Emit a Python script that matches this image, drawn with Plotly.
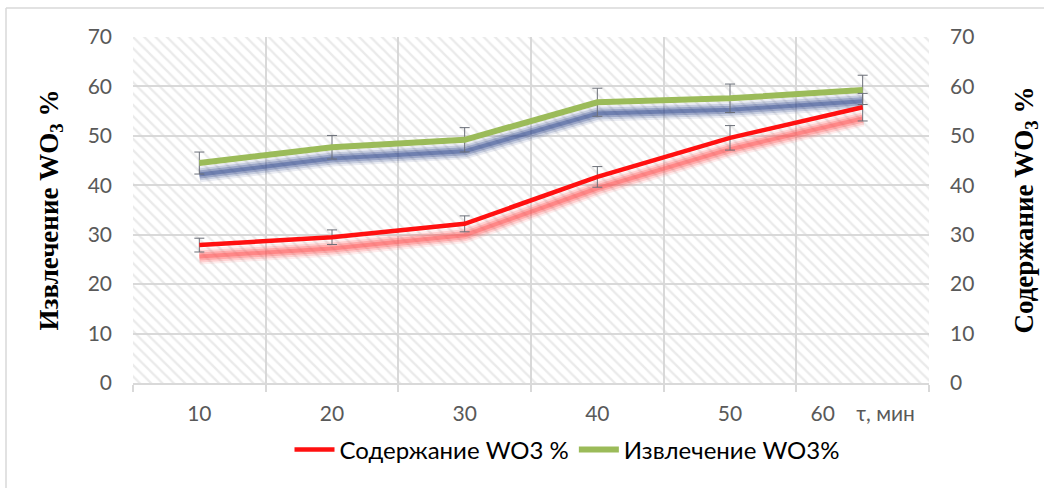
import plotly.graph_objects as go

# Data
time_labels = ["10", "20", "30", "40", "50", "60\u00a0\u00a0\u00a0\u00a0τ, мин"]
content_wo3 = [27.9, 29.5, 32.2, 41.7, 49.6, 55.8]      # Содержание WO3 %
extraction_wo3 = [44.5, 47.7, 49.2, 56.8, 57.6, 59.3]   # Извлечение WO3 %
error_pct = 5
y_max = 70

# Look
W, H = 1044, 488
ML, MR, MT, MB = 133, 115, 37, 105
GRID = "#d9d9d9"
TICK_FONT = dict(family="Lato", size=21, color="#595959")
TITLE_FONT = dict(family="Liberation Serif", size=27, color="black", weight="bold")
SHADOW_SHIFT = 2.3  # in axis units, drop shadow under the lines


def px_x(p):
    return (p - ML) / (W - ML - MR)


def px_y(p):
    return (H - MB - p) / (H - MT - MB)


fig = go.Figure()

# hatched plot area
fig.add_trace(go.Bar(
    x=time_labels, y=[y_max] * len(time_labels), yaxis="y",
    marker=dict(color="rgba(0,0,0,0)", line=dict(width=0),
                pattern=dict(shape="\\", fgcolor="#d6d6d6", bgcolor="rgba(0,0,0,0)",
                             size=8, solidity=0.3)),
    hoverinfo="skip", showlegend=False,
))

# blurred shadows (stacked soft lines)
for y, col in [(extraction_wo3, "45,70,140"), (content_wo3, "255,80,80")]:
    for w, a in [(16, 0.10), (12, 0.18), (8, 0.28), (4, 0.4)]:
        fig.add_trace(go.Scatter(
            x=time_labels, y=y, yaxis="y2", mode="lines",
            line=dict(color=f"rgba({col},{a})", width=w),
            hoverinfo="skip", showlegend=False,
        ))

err = dict(type="percent", value=error_pct, color="#6b6f78", thickness=1, width=5)

fig.add_trace(go.Scatter(
    x=time_labels, y=extraction_wo3, yaxis="y3", mode="lines",
    name="Извлечение WO3%", legendrank=2,
    line=dict(color="#9bbb59", width=6), error_y=err,
))
fig.add_trace(go.Scatter(
    x=time_labels, y=content_wo3, yaxis="y4", mode="lines",
    name="Содержание WO3 %", legendrank=1,
    line=dict(color="#ff1010", width=4.5), error_y=err,
))

fig.update_layout(
    width=W, height=H,
    margin=dict(l=ML, r=MR, t=MT, b=MB),
    paper_bgcolor="white", plot_bgcolor="white",
    bargap=0,
    xaxis=dict(
        type="category", tickson="boundaries", range=[-0.5, len(time_labels) - 0.5],
        showgrid=True, gridcolor=GRID, gridwidth=1.5,
        showline=True, linecolor=GRID, linewidth=1.5,
        ticks="outside", ticklen=7, tickcolor=GRID, tickwidth=1.5,
        tickfont=TICK_FONT, ticklabelstandoff=11,
    ),
    yaxis=dict(
        range=[0, y_max], dtick=10, showgrid=True, gridcolor=GRID, gridwidth=1.5,
        zeroline=False, tickfont=TICK_FONT, ticklabelstandoff=20,
        title=dict(text="Извлечение WO<sub>3</sub> %", font=TITLE_FONT, standoff=21),
    ),
    yaxis2=dict(overlaying="y", range=[SHADOW_SHIFT, y_max + SHADOW_SHIFT], visible=False),
    yaxis3=dict(overlaying="y", range=[0, y_max], visible=False),
    yaxis4=dict(
        overlaying="y", side="right", range=[0, y_max], dtick=10,
        showgrid=False, zeroline=False, tickfont=TICK_FONT, ticklabelstandoff=20,
        title=dict(text="Содержание WO<sub>3</sub> %", font=TITLE_FONT, standoff=40),
    ),
    legend=dict(
        orientation="h", x=px_x(567), xanchor="center", y=px_y(450), yanchor="middle",
        font=dict(family="Lato", size=24, color="black"), bgcolor="rgba(0,0,0,0)",
        itemwidth=40, tracegroupgap=0,
    ),
    shapes=[
        dict(type="line", xref="paper", yref="paper", x0=px_x(6), x1=px_x(W + 10),
             y0=px_y(8), y1=px_y(8), line=dict(color=GRID, width=1.5)),
        dict(type="line", xref="paper", yref="paper", x0=px_x(6), x1=px_x(6),
             y0=px_y(8), y1=px_y(H + 10), line=dict(color=GRID, width=1.5)),
    ],
)

fig.write_html("out.html", config={"displayModeBar": False},
               post_script="document.body.style.margin='0';")
